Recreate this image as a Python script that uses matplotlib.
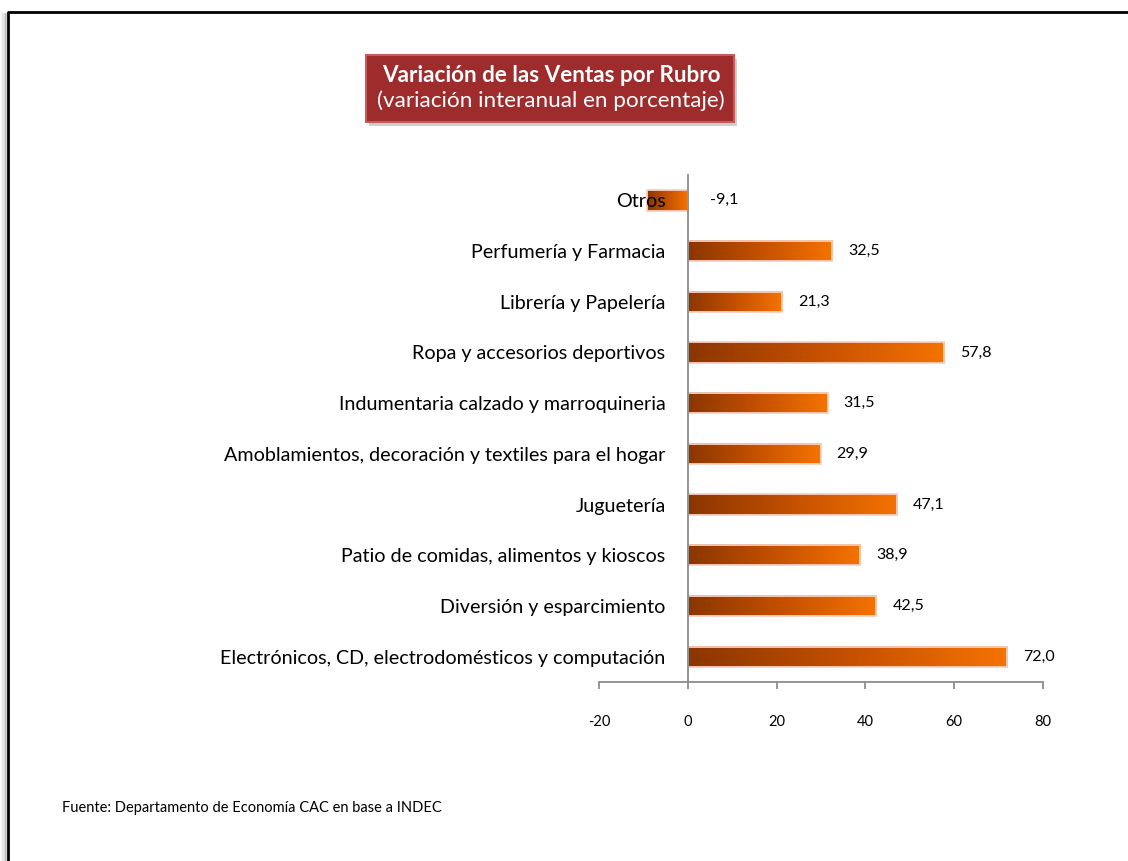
import numpy as np
import matplotlib.pyplot as plt
from matplotlib.colors import LinearSegmentedColormap
from matplotlib.patches import Rectangle

plt.rcParams['font.family'] = ['Lato', 'DejaVu Sans']

categorias = ['Electrónicos, CD, electrodomésticos y computación',
              'Diversión y esparcimiento',
              'Patio de comidas, alimentos y kioscos',
              'Juguetería',
              'Amoblamientos, decoración y textiles para el hogar',
              'Indumentaria calzado y marroquineria',
              'Ropa y accesorios deportivos',
              'Librería y Papelería',
              'Perfumería y Farmacia',
              'Otros']
valores = [72.0, 42.5, 38.9, 47.1, 29.9, 31.5, 57.8, 21.3, 32.5, -9.1]
ticks_x = [-20, 0, 20, 40, 60, 80]

fig = plt.figure(figsize=(11.28, 8.61), dpi=100)
ax = fig.add_axes([0.531, 0.2079, 0.3936, 0.5888])

cmap = LinearSegmentedColormap.from_list('naranja', ['#8a3600', '#c45000', '#f57300'])
grad = np.linspace(0, 1, 256).reshape(1, -1)
h = 0.4
for i, v in enumerate(valores):
    x0, x1 = min(0, v), max(0, v)
    ax.imshow(grad, cmap=cmap, extent=[x0, x1, i - h / 2, i + h / 2],
              aspect='auto', zorder=1, interpolation='bilinear')
    ax.add_patch(Rectangle((x0, i - h / 2), x1 - x0, h, fill=False,
                           edgecolor='#f9cfc0', linewidth=1.3, zorder=1.5))
    txt = f'{v:.1f}'.replace('.', ',')
    off = 16 if v >= 0 else 22
    ax.annotate(txt, (x1, i), xytext=(off, 0), textcoords='offset pixels',
                ha='left', va='center', fontsize=11.5, color='black')

for s in ['top', 'right']:
    ax.spines[s].set_visible(False)
ax.spines['left'].set_position(('data', 0))
ax.spines['left'].set_color('#8c8c8c')
ax.spines['bottom'].set_color('#8c8c8c')
ax.spines['left'].set_linewidth(1.3)
ax.spines['bottom'].set_linewidth(1.3)

ax.set_xlim(-20, 80)
ax.set_ylim(-0.5, 9.5)
ax.set_xticks(ticks_x)
ax.set_xticklabels([str(t) for t in ticks_x])
ax.set_yticks(range(len(categorias)))
ax.set_yticklabels(categorias)
ax.tick_params(axis='y', length=0, pad=16, labelsize=14.2)
ax.tick_params(axis='x', direction='out', length=5, width=1.3, color='#8c8c8c',
               pad=19, labelsize=10.5)
ax.set_facecolor('none')

# título en recuadro
fig.patches.append(Rectangle((369 / 1128, 1 - 126 / 861), 368 / 1128, 67 / 861,
                             transform=fig.transFigure, facecolor='#b0b0b0',
                             edgecolor='none', alpha=0.6, zorder=1))
fig.patches.append(Rectangle((366 / 1128, 1 - 122 / 861), 368 / 1128, 67 / 861,
                             transform=fig.transFigure, facecolor='#9e2c2c',
                             edgecolor='#c45a5a', linewidth=1.5, zorder=2))
fig.text(551 / 1128, 1 - 76 / 861, 'Variación de las Ventas por Rubro', ha='center',
         va='center', fontsize=16.2, fontweight='bold', color='white', zorder=3)
fig.text(551 / 1128, 1 - 101 / 861, '(variación interanual en porcentaje)', ha='center',
         va='center', fontsize=16.2, color='white', zorder=3)

fig.text(62 / 1128, 1 - 808 / 861, 'Fuente: Departamento de Economía CAC en base a INDEC',
         ha='left', va='center', fontsize=10.5, color='black')

# marco
for k, a in enumerate([0.35, 0.25, 0.15, 0.08]):
    fig.lines.append(plt.Line2D([(6 - 1.5 * k) / 1128] * 2, [0, 1 - 14 / 861],
                                transform=fig.transFigure, color='#808080', alpha=a, lw=1.5))
fig.lines.append(plt.Line2D([8 / 1128, 8 / 1128, 1], [0, 1 - 12 / 861, 1 - 12 / 861],
                            transform=fig.transFigure, color='black', lw=2))

fig.savefig('out.png', dpi=100)
